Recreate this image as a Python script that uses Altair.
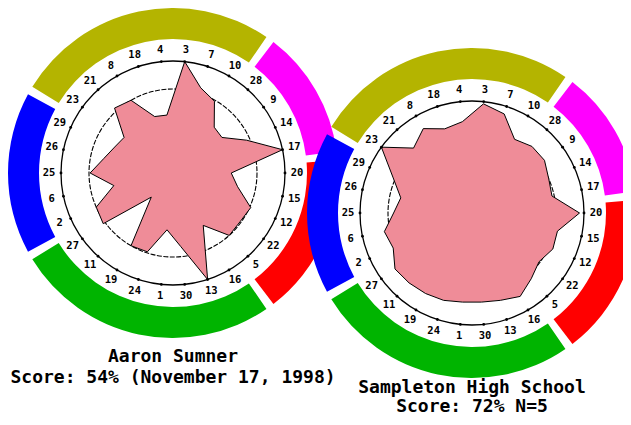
import altair as alt
import pandas as pd

# ---------------- data ----------------
spokes = ["3", "7", "10", "28", "9", "14", "17", "20", "15", "12",
          "22", "5", "16", "13", "30", "1", "24", "19", "11", "27",
          "2", "6", "25", "26", "29", "23", "21", "8", "18", "4"]

# radial value in % of the outer ring
aaron_pct = [100, 80, 74, 55, 54, 72, 100, 52, 59, 76,
             74, 75, 54, 100, 66, 51, 74, 75, 29, 77,
             75, 54, 74, 63, 57, 54, 78, 75, 53, 52]
school_pct = [98, 93, 76, 80, 80, 75, 73, 96, 78, 79,
              74, 79, 86, 82, 80, 80, 82, 83, 84, 85,
              77, 80, 70, 65, 77, 100, 78, 87, 79, 82]

band_first = ["23", "28", "20", "16", "2"]
band_last = ["10", "17", "5", "27", "29"]
band_colors = ["#b4b400", "#ff00ff", "#ff0000", "#00b400", "#0000ff"]

panels = ["Aaron Sumner", "Sampleton High School"]
caption_line1 = ["Aaron Sumner", "Sampleton High School"]
caption_line2 = ["Score: 54% (November 17, 1998)", "Score: 72% N=5"]

# ---------------- layout / style constants ----------------
W, H = 615, 409
CENTERS = {"Aaron Sumner": (165, 165), "Sampleton High School": (464, 205)}
CAPTION_DY = {"Aaron Sumner": (189, 210), "Sampleton High School": (180, 199)}
R_OUT = 112      # outer ring radius (100 %)
R_IN = 84        # inner ring radius
R_LABEL = 124
BAND_IN, BAND_OUT = 134, 165
STEP = 360 / len(spokes)
GAP = 1.5
PINK = "#ef8c98"
MONO = "DejaVu Sans Mono"

# ---------------- tables ----------------
rows = []
for p, vals in zip(panels, [aaron_pct, school_pct]):
    cx, cy = CENTERS[p]
    for i, (s, v) in enumerate(zip(spokes, vals)):
        rows.append({"panel": p, "idx": i, "spoke": s, "value": v,
                     "deg": STEP / 2 + STEP * i, "cx": cx, "cy": cy})
spk = pd.DataFrame(rows)

brows = []
for p in panels:
    cx, cy = CENTERS[p]
    for f, l, c in zip(band_first, band_last, band_colors):
        a0 = STEP * spokes.index(f) + GAP
        a1 = STEP * (spokes.index(l) + 1) - GAP
        if a1 < a0:
            a1 += 360
        brows.append({"panel": p, "a0": a0, "a1": a1, "color": c, "cx": cx, "cy": cy})
bands = pd.DataFrame(brows)

ctr = pd.DataFrame([{"panel": p, "cx": CENTERS[p][0], "cy": CENTERS[p][1]} for p in panels])

caps = []
for p, l1, l2 in zip(panels, caption_line1, caption_line2):
    cx, cy = CENTERS[p]
    d1, d2 = CAPTION_DY[p]
    caps.append({"panel": p, "text": l1, "cx": cx, "cy": cy, "dy": d1})
    caps.append({"panel": p, "text": l2, "cx": cx, "cy": cy, "dy": d2})
capdf = pd.DataFrame(caps)

xs = alt.Scale(domain=[0, W], nice=False, zero=False)
ys = alt.Scale(domain=[0, H], nice=False, zero=False, reverse=True)

def X(f):
    return alt.X(f, type="quantitative", scale=xs, axis=None)

def Y(f):
    return alt.Y(f, type="quantitative", scale=ys, axis=None)

band_layer = alt.Chart(bands).transform_calculate(
    t0="datum.a0 * PI / 180", t1="datum.a1 * PI / 180"
).mark_arc(radius=BAND_OUT, radius2=BAND_IN).encode(
    x=X("cx"), y=Y("cy"),
    theta=alt.Theta("t0:Q", scale=None), theta2="t1:Q",
    color=alt.Color("color:N", scale=None),
)

outer_ring = alt.Chart(ctr).mark_point(
    shape="circle", size=(2 * R_OUT) ** 2, filled=False, color="black",
    strokeWidth=1.3, opacity=1
).encode(x=X("cx"), y=Y("cy"))

inner_ring = alt.Chart(ctr).mark_point(
    shape="circle", size=(2 * R_IN) ** 2, filled=False, color="black",
    strokeWidth=1.1, opacity=1, strokeDash=[5, 1.5]
).encode(x=X("cx"), y=Y("cy"))

poly = alt.Chart(spk).transform_calculate(
    a="datum.deg * PI / 180",
).transform_calculate(
    px=f"datum.cx + datum.value / 100 * {R_OUT} * sin(datum.a)",
    py=f"datum.cy - datum.value / 100 * {R_OUT} * cos(datum.a)",
).mark_line(
    interpolate="linear-closed", fill=PINK, stroke="black", strokeWidth=1
).encode(x=X("px:Q"), y=Y("py:Q"), detail="panel:N", order="idx:Q")

ticks = alt.Chart(spk).transform_calculate(
    a="datum.deg * PI / 180",
).transform_calculate(
    tx=f"datum.cx + {R_OUT} * sin(datum.a)",
    ty=f"datum.cy - {R_OUT} * cos(datum.a)",
).mark_point(shape="circle", filled=True, size=8, color="black", opacity=1).encode(
    x=X("tx:Q"), y=Y("ty:Q")
)

labels = alt.Chart(spk).transform_calculate(
    a="datum.deg * PI / 180",
).mark_text(font=MONO, fontSize=10.5, fontWeight="bold", align="center",
            baseline="middle", color="black").encode(
    x=X("cx"), y=Y("cy"),
    theta=alt.Theta("a:Q", scale=None),
    radius=alt.value(R_LABEL),
    text="spoke:N",
)

captions = alt.Chart(capdf).transform_calculate(
    ty="datum.cy + datum.dy"
).mark_text(font=MONO, fontSize=18, fontWeight="bold", align="center",
            baseline="alphabetic", color="black").encode(
    x=X("cx"), y=Y("ty:Q"), text="text:N"
)

chart = alt.layer(
    band_layer, outer_ring, inner_ring, poly, ticks, labels, captions
).properties(
    width=W, height=H, padding=0, autosize=alt.AutoSizeParams(type="none")
).configure_view(stroke=None)

chart.save("out.html", embed_options={"renderer": "svg", "actions": False})
